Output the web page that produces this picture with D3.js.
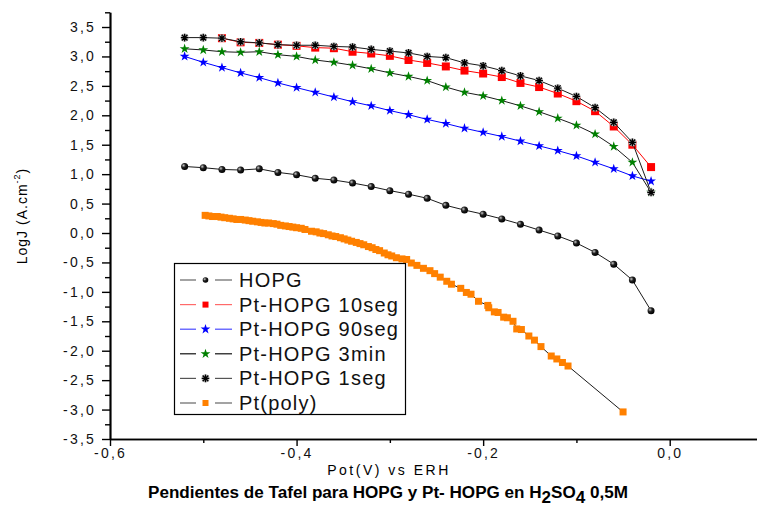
<!DOCTYPE html>
<html>
<head>
<meta charset="utf-8">
<script src="https://d3js.org/d3.v7.min.js"></script>
<style>
body { margin: 0; background: #fff; }
text { font-family: Arial, "Liberation Sans", sans-serif; }
</style>
</head>
<body>
<div id="container"></div>
<script>
// potentials (V vs ERH)
var pot = [-0.52,-0.50,-0.48,-0.46,-0.44,-0.42,-0.40,-0.38,-0.36,-0.34,-0.32,-0.30,-0.28,
           -0.26,-0.24,-0.22,-0.20,-0.18,-0.16,-0.14,-0.12,-0.10,-0.08,-0.06,-0.04,-0.02];
var potSeg10 = [-0.48,-0.46,-0.44,-0.42,-0.40,-0.38,-0.36,-0.34,-0.32,-0.30,-0.28,
                -0.26,-0.24,-0.22,-0.20,-0.18,-0.16,-0.14,-0.12,-0.10,-0.08,-0.06,-0.04,-0.02];

// log J values
var hopg   = [1.13,1.11,1.08,1.07,1.09,1.03,0.99,0.93,0.90,0.85,0.79,0.72,0.66,
              0.59,0.47,0.39,0.32,0.24,0.15,0.05,-0.05,-0.17,-0.33,-0.53,-0.80,-1.32];
var seg10  = [3.31,3.24,3.23,3.20,3.18,3.15,3.14,3.08,3.05,3.01,2.94,2.89,
              2.83,2.76,2.71,2.65,2.55,2.48,2.37,2.24,2.07,1.81,1.50,1.12];
var seg90  = [3.00,2.90,2.81,2.72,2.64,2.55,2.47,2.39,2.31,2.23,2.16,2.08,2.01,
              1.93,1.86,1.78,1.71,1.64,1.56,1.48,1.40,1.31,1.20,1.09,0.97,0.88];
var min3   = [3.13,3.11,3.08,3.07,3.08,3.03,3.00,2.94,2.90,2.85,2.79,2.72,2.66,
              2.59,2.48,2.39,2.33,2.25,2.16,2.06,1.95,1.83,1.68,1.47,1.20,0.69];
var seg1   = [3.32,3.32,3.31,3.25,3.23,3.20,3.19,3.19,3.17,3.16,3.12,3.09,3.06,
              3.00,2.98,2.89,2.84,2.76,2.67,2.59,2.46,2.32,2.13,1.88,1.54,0.69];

// Pt(poly), dense experimental points
var polyPot = [-0.498,-0.494,-0.490,-0.485,-0.481,-0.477,-0.472,-0.468,-0.464,-0.460,
               -0.455,-0.451,-0.447,-0.442,-0.438,-0.434,-0.430,-0.425,-0.421,-0.417,
               -0.412,-0.408,-0.404,-0.400,-0.395,-0.391,-0.384,-0.379,-0.375,-0.371,
               -0.366,-0.362,-0.358,-0.353,-0.349,-0.345,-0.341,-0.336,-0.332,-0.328,
               -0.323,-0.319,-0.315,-0.311,-0.306,-0.302,-0.298,-0.293,-0.287,-0.282,
               -0.277,-0.271,-0.264,-0.257,-0.252,-0.246,-0.239,-0.234,-0.224,-0.218,
               -0.213,-0.205,-0.195,-0.194,-0.188,-0.184,-0.178,-0.174,-0.168,-0.164,
               -0.159,-0.151,-0.145,-0.138,-0.127,-0.121,-0.115,-0.109,-0.050];
var polyLogJ = [0.30,0.29,0.28,0.28,0.27,0.26,0.25,0.24,0.23,0.23,
                0.22,0.21,0.20,0.19,0.18,0.17,0.17,0.16,0.15,0.13,
                0.12,0.11,0.10,0.09,0.08,0.06,0.03,0.02,0.00,-0.01,
                -0.03,-0.05,-0.06,-0.08,-0.10,-0.12,-0.14,-0.16,-0.18,-0.20,
                -0.23,-0.25,-0.28,-0.30,-0.34,-0.37,-0.39,-0.42,-0.44,-0.45,
                -0.51,-0.55,-0.60,-0.64,-0.69,-0.75,-0.82,-0.87,-0.94,-1.01,
                -1.04,-1.16,-1.23,-1.27,-1.34,-1.35,-1.43,-1.44,-1.50,-1.63,
                -1.64,-1.75,-1.82,-1.93,-2.09,-2.14,-2.20,-2.26,-3.04];

var yMajor = [-3.5,-3.0,-2.5,-2.0,-1.5,-1.0,-0.5,0.0,0.5,1.0,1.5,2.0,2.5,3.0,3.5];
var yMinor = [-3.25,-2.75,-2.25,-1.75,-1.25,-0.75,-0.25,0.25,0.75,1.25,1.75,2.25,2.75,3.25,3.75];
var xMajor = [-0.6,-0.4,-0.2,0.0];
var xMinor = [-0.5,-0.3,-0.1,0.1];

var legendNames = ["HOPG","Pt-HOPG 10seg","Pt-HOPG 90seg","Pt-HOPG 3min","Pt-HOPG 1seg","Pt(poly)"];

width = 757;
height = 506;

window.onload = function() {
    var svg = d3.select("#container").append("svg")
        .attr("width", width)
        .attr("height", height);

    var defs = svg.append("defs");
    var grad = defs.append("radialGradient").attr("id", "ball")
        .attr("cx", "35%").attr("cy", "35%").attr("r", "65%");
    grad.append("stop").attr("offset", "0%").attr("stop-color", "#c8c8c8");
    grad.append("stop").attr("offset", "45%").attr("stop-color", "#202020");
    grad.append("stop").attr("offset", "100%").attr("stop-color", "#000");

    var x = d3.scaleLinear().domain([-0.6, 0.1]).range([110, 763]);
    var y = d3.scaleLinear().domain([-3.5, 3.75]).range([439, 12.3]);

    var fmt = function(d) { return d3.format(".1f")(d).replace(".", ",").replace("\u2212", "-"); };

    // axes
    svg.append("g").attr("transform", "translate(110,0)")
        .call(d3.axisLeft(y).tickValues(yMajor).tickSize(8).tickSizeOuter(0).tickPadding(6).tickFormat(fmt));
    svg.append("g").attr("transform", "translate(110,0)")
        .call(d3.axisLeft(y).tickValues(yMinor).tickSize(5).tickSizeOuter(0).tickFormat(""));
    svg.append("g").attr("transform", "translate(0,439)")
        .call(d3.axisBottom(x).tickValues(xMajor).tickSize(7).tickSizeOuter(0).tickPadding(2).tickFormat(fmt));
    svg.append("g").attr("transform", "translate(0,439)")
        .call(d3.axisBottom(x).tickValues(xMinor).tickSize(4).tickSizeOuter(0).tickFormat(""));

    svg.selectAll(".domain").style("stroke", "#000").style("stroke-width", 1.7);
    svg.selectAll(".tick line").style("stroke", "#000").style("stroke-width", 1.4);
    svg.selectAll(".tick text")
        .style("font-family", "Arial, 'Liberation Sans', sans-serif")
        .style("font-size", "14px")
        .style("letter-spacing", "2.2px")
        .style("fill", "#111");

    // series
    var series = [
        {xs: pot,      ys: hopg,     line: "#1a1a1a", mark: "ball"},
        {xs: potSeg10, ys: seg10,    line: "#ff0000", mark: "square", color: "#ff0000", size: 8},
        {xs: pot,      ys: seg90,    line: "#0000ff", mark: "star",   color: "#0000ff"},
        {xs: pot,      ys: min3,     line: "#1a1a1a", mark: "star",   color: "#008000"},
        {xs: pot,      ys: seg1,     line: "#1a1a1a", mark: "aster"},
        {xs: polyPot,  ys: polyLogJ, line: "#1a1a1a", mark: "square", color: "#ff8000", size: 7}
    ];

    var line = d3.line().x(function(d) { return x(d[0]); }).y(function(d) { return y(d[1]); });

    series.forEach(function(s) {
        var pts = s.xs.map(function(v, i) { return [v, s.ys[i]]; });
        svg.append("path")
            .attr("d", line(pts))
            .style("fill", "none")
            .style("stroke", s.line)
            .style("stroke-width", 1);
        pts.forEach(function(p) {
            drawMarker(svg, s, x(p[0]), y(p[1]));
        });
    });

    // legend
    var leg = svg.append("g");
    leg.append("rect")
        .attr("x", 174.5).attr("y", 263.5).attr("width", 231).attr("height", 151)
        .style("fill", "#fff").style("stroke", "#000").style("stroke-width", 1.2);
    var legLine = ["#666", "#ff6a6a", "#4a4aff", "#111", "#555", "#666"];
    legendNames.forEach(function(name, i) {
        var cy = 280 + i * 24.6;
        leg.append("line").attr("x1", 180).attr("x2", 196).attr("y1", cy).attr("y2", cy)
            .style("stroke", legLine[i]).style("stroke-width", 1.2);
        leg.append("line").attr("x1", 215).attr("x2", 232).attr("y1", cy).attr("y2", cy)
            .style("stroke", legLine[i]).style("stroke-width", 1.2);
        var s = series[i];
        var m = s.mark == "ball" ? {mark: "dot"} : (s.mark == "square" ? {mark: "square", color: s.color, size: 6} : s);
        drawMarker(leg, m, 205.5, cy);
        leg.append("text")
            .attr("x", 239).attr("y", cy + 7)
            .style("font-size", "20px")
            .style("letter-spacing", "1.2px")
            .style("fill", "#111")
            .text(name);
    });

    // axis titles
    svg.append("text")
        .attr("x", 389).attr("y", 475)
        .attr("text-anchor", "middle")
        .style("font-size", "14px")
        .style("letter-spacing", "2.5px")
        .text("Pot(V) vs ERH");

    var yl = svg.append("text")
        .attr("transform", "translate(27,216) rotate(-90)")
        .attr("text-anchor", "middle")
        .style("font-size", "14px")
        .style("letter-spacing", "1px");
    yl.append("tspan").text("LogJ (A.cm");
    yl.append("tspan").attr("dy", -7).style("font-size", "9px").text("-2");
    yl.append("tspan").attr("dy", 7).text(")");

    var t = svg.append("text")
        .attr("x", 388).attr("y", 498)
        .attr("text-anchor", "middle")
        .attr("textLength", 480)
        .attr("lengthAdjust", "spacingAndGlyphs")
        .style("font-family", "'Liberation Sans Narrow', 'Arial Narrow', Arial, sans-serif")
        .style("font-weight", "bold")
        .style("font-size", "16px");
    t.append("tspan").text("Pendientes de Tafel para HOPG y Pt- HOPG en H");
    t.append("tspan").attr("dy", 5).text("2");
    t.append("tspan").attr("dy", -5).text("SO");
    t.append("tspan").attr("dy", 5).text("4");
    t.append("tspan").attr("dy", -5).text(" 0,5M");
}


function drawMarker(g, s, cx, cy) {
    if (s.mark == "ball") {
        g.append("circle").attr("cx", cx).attr("cy", cy).attr("r", 3.5)
            .style("fill", "url(#ball)");
    } else if (s.mark == "dot") {
        g.append("circle").attr("cx", cx).attr("cy", cy).attr("r", 2.8)
            .style("fill", "url(#ball)");
    } else if (s.mark == "square") {
        var h = s.size / 2;
        g.append("rect").attr("x", cx - h).attr("y", cy - h)
            .attr("width", s.size).attr("height", s.size)
            .style("fill", s.color);
    } else if (s.mark == "star") {
        g.append("path")
            .attr("d", d3.symbol().type(d3.symbolStar).size(30)())
            .attr("transform", "translate(" + cx + "," + cy + ")")
            .style("fill", s.color);
    } else if (s.mark == "aster") {
        var r = 3.8;
        var d = "M" + (cx - r) + "," + cy + "H" + (cx + r) +
                "M" + cx + "," + (cy - r) + "V" + (cy + r) +
                "M" + (cx - r * 0.75) + "," + (cy - r * 0.75) + "L" + (cx + r * 0.75) + "," + (cy + r * 0.75) +
                "M" + (cx - r * 0.75) + "," + (cy + r * 0.75) + "L" + (cx + r * 0.75) + "," + (cy - r * 0.75);
        g.append("path").attr("d", d).style("stroke", "#bbb").style("stroke-width", 3);
        g.append("path").attr("d", d).style("stroke", "#000").style("stroke-width", 1.3);
    }
}
</script>
</body>
</html>
